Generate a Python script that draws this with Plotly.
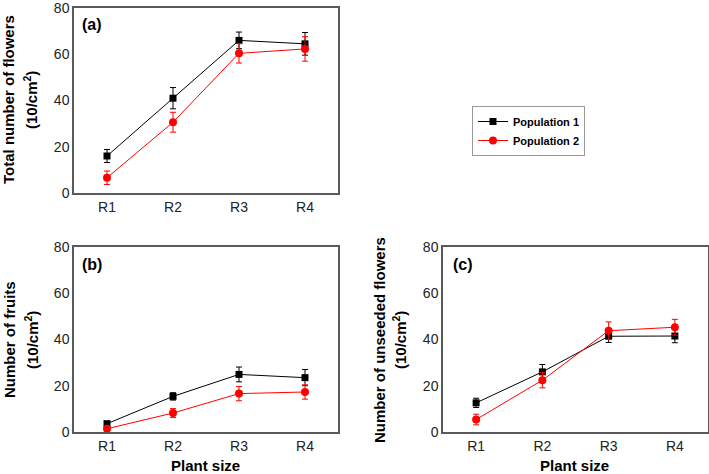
import plotly.graph_objects as go

categories = ["R1", "R2", "R3", "R4"]

# Panel (a): Total number of flowers (10/cm2)
a_pop1 = [16.0, 41.0, 66.0, 64.5]
a_pop1_err = [2.8, 4.6, 3.6, 4.9]
a_pop2 = [6.6, 30.6, 60.4, 62.3]
a_pop2_err = [2.9, 4.3, 4.2, 5.3]

# Panel (b): Number of fruits (10/cm2)
b_pop1 = [3.6, 15.4, 24.9, 23.5]
b_pop1_err = [1.0, 1.6, 3.2, 3.5]
b_pop2 = [1.4, 8.2, 16.6, 17.3]
b_pop2_err = [0.6, 1.9, 3.1, 3.1]

# Panel (c): Number of unseeded flowers (10/cm2)
c_pop1 = [12.6, 26.0, 41.4, 41.5]
c_pop1_err = [2.0, 3.2, 2.7, 2.9]
c_pop2 = [5.4, 22.4, 43.8, 45.3]
c_pop2_err = [2.3, 3.3, 3.8, 3.4]

y_ticks = [0, 20, 40, 60, 80]
series_names = ["Population 1", "Population 2"]

FONT = "Liberation Sans, Arial, sans-serif"
W, H = 709, 474

fig = go.Figure()

panels = [
    ("x", "y", a_pop1, a_pop1_err, a_pop2, a_pop2_err),
    ("x2", "y2", b_pop1, b_pop1_err, b_pop2, b_pop2_err),
    ("x3", "y3", c_pop1, c_pop1_err, c_pop2, c_pop2_err),
]

for i, (xa, ya, p1, e1, p2, e2) in enumerate(panels):
    fig.add_trace(go.Scatter(
        x=categories, y=p1, xaxis=xa, yaxis=ya, mode="lines+markers",
        name=series_names[0], showlegend=(i == 0), legendrank=1,
        line=dict(color="black", width=1),
        marker=dict(symbol="square", size=7, color="black"),
        error_y=dict(type="data", array=e1, visible=True, color="black",
                     thickness=1, width=3),
    ))
    fig.add_trace(go.Scatter(
        x=categories, y=p2, xaxis=xa, yaxis=ya, mode="lines+markers",
        name=series_names[1], showlegend=(i == 0), legendrank=2,
        line=dict(color="#ff0000", width=1),
        marker=dict(symbol="circle", size=8, color="#ff0000"),
        error_y=dict(type="data", array=e2, visible=True, color="#ff0000",
                     thickness=1, width=3),
    ))

def xdom(l, r):
    return [l / W, r / W]

def ydom(t, b):
    return [1 - b / H, 1 - t / H]

axis_common = dict(showline=True, mirror=True, linecolor="#5a5a5a", linewidth=1.5,
                   showgrid=False, zeroline=False, ticks="", ticklen=0,
                   automargin=False, ticklabeloverflow="allow",
                   tickfont=dict(family=FONT, size=14, color="#222"))

layout = dict(
    width=W, height=H,
    margin=dict(l=0, r=0, t=0, b=0, pad=0),
    paper_bgcolor="white", plot_bgcolor="white",
    font=dict(family=FONT),
    showlegend=True,
    legend=dict(x=472 / W, y=1 - 106 / H, xanchor="left", yanchor="top",
                bordercolor="#999", borderwidth=1, bgcolor="white",
                font=dict(family=FONT, size=11, color="black", weight="bold"),
                itemwidth=30, tracegroupgap=0),
)

doms = [
    (xdom(74, 338), ydom(8, 193)),
    (xdom(74, 338), ydom(247, 432)),
    (xdom(443, 708), ydom(247, 432)),
]
for k, (xd, yd) in enumerate(doms):
    sfx = "" if k == 0 else str(k + 1)
    layout["xaxis" + sfx] = dict(axis_common, domain=xd, anchor="y" + sfx,
                                 type="category", range=[-0.5, 3.5])
    layout["yaxis" + sfx] = dict(axis_common, domain=yd, anchor="x" + sfx,
                                 range=[0, 80], tickvals=y_ticks)

fig.update_layout(**layout)

def ann(text, x, y, size, angle=0, bold=True, xanchor="center"):
    fig.add_annotation(text=text, x=x / W, y=1 - y / H, xref="paper", yref="paper",
                       showarrow=False, textangle=angle, xanchor=xanchor, yanchor="middle",
                       font=dict(family=FONT, size=size, color="black",
                                 weight="bold" if bold else "normal"))

# panel labels
ann("(a)", 80, 24, 16, xanchor="left")
ann("(b)", 80, 264, 16, xanchor="left")
ann("(c)", 451, 264, 16, xanchor="left")

# y titles
ann("Total number of flowers", 9, 100, 15, angle=-90)
ann("(10/cm<sup>2</sup>)", 31, 100, 15, angle=-90)
ann("Number of fruits", 9, 340, 15, angle=-90)
ann("(10/cm<sup>2</sup>)", 31, 340, 15, angle=-90)
ann("Number of unseeded flowers", 379, 340, 15, angle=-90)
ann("(10/cm<sup>2</sup>)", 399, 340, 15, angle=-90)

# x titles
ann("Plant size", 205, 465, 15)
ann("Plant size", 574, 465, 15)

fig.write_html(
    "out.html",
    config={"displayModeBar": False},
    post_script="document.body.style.margin='0';document.body.style.overflow='hidden';",
)
